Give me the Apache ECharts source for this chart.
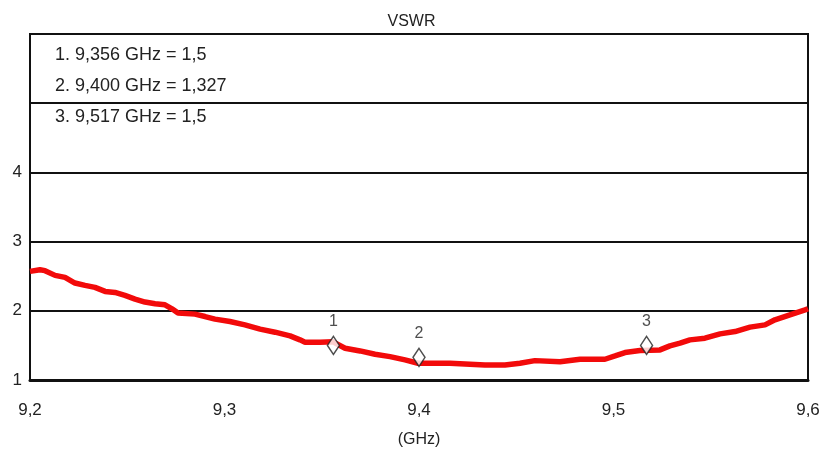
<!DOCTYPE html>
<html>
<head>
<meta charset="utf-8">
<script src="https://cdn.jsdelivr.net/npm/echarts@6/dist/echarts.min.js"></script>
<style>
  html, body { margin: 0; padding: 0; background: #fff; }
  #chart { width: 823px; height: 450px; }
</style>
</head>
<body>
<div id="chart"></div>
<script>
// VSWR sweep, frequency in GHz
const freqGHz = [
  9.2000, 9.2051, 9.2077, 9.2129, 9.2180, 9.2231, 9.2283, 9.2334, 9.2386, 9.2437,
  9.2488, 9.2540, 9.2591, 9.2643, 9.2694, 9.2730, 9.2761, 9.2848, 9.2900, 9.2951,
  9.3028, 9.3105, 9.3183, 9.3260, 9.3337, 9.3388, 9.3414, 9.3491, 9.3558, 9.3620,
  9.3697, 9.3774, 9.3851, 9.3928, 9.3995, 9.4159, 9.4339, 9.4442, 9.4519, 9.4596,
  9.4725, 9.4828, 9.4956, 9.5008, 9.5059, 9.5136, 9.5239, 9.5290, 9.5342, 9.5393,
  9.5470, 9.5548, 9.5625, 9.5702, 9.5779, 9.5830, 9.5907, 9.5985, 9.6000
];
const vswr = [
  2.570, 2.594, 2.580, 2.512, 2.483, 2.401, 2.367, 2.338, 2.280, 2.265,
  2.222, 2.170, 2.126, 2.101, 2.087, 2.029, 1.967, 1.952, 1.917, 1.880,
  1.845, 1.797, 1.735, 1.691, 1.638, 1.580, 1.546, 1.546, 1.551, 1.459,
  1.420, 1.372, 1.338, 1.290, 1.242, 1.242, 1.217, 1.217, 1.242, 1.280,
  1.265, 1.300, 1.300, 1.348, 1.396, 1.425, 1.435, 1.493, 1.532, 1.580,
  1.604, 1.667, 1.700, 1.764, 1.797, 1.870, 1.942, 2.014, 2.030
];

// Markers
const markerFreq = [9.356, 9.400, 9.517];
const markerVswr = [1.5, 1.327, 1.5];

// Axis ticks
const xTicks = [9.2, 9.3, 9.4, 9.5, 9.6];
const yTicksLabelled = [1, 2, 3, 4];

const FONT = '"Liberation Sans", Arial, sans-serif';
const comma = v => String(v).replace('.', ',');

const markerLines = markerFreq.map((f, i) =>
  (i + 1) + '. ' + comma(f.toFixed(3)) + ' GHz = ' + comma(markerVswr[i]));

const chart = echarts.init(document.getElementById('chart'), null, { renderer: 'canvas' });

chart.setOption({
  animation: false,
  backgroundColor: '#ffffff',
  title: {
    text: 'VSWR',
    left: 'center',
    top: 9,
    textStyle: { fontFamily: FONT, fontSize: 16, fontWeight: 'normal', color: '#222' }
  },
  grid: {
    left: 30, right: 15, top: 34, bottom: 70,
    outerBoundsMode: 'none',
    containLabel: false,
    show: true,
    borderColor: '#111',
    borderWidth: 2
  },
  xAxis: {
    type: 'value',
    min: 9.2, max: 9.6, interval: 0.1,
    name: '(GHz)',
    nameLocation: 'middle',
    nameGap: 52,
    nameTextStyle: { fontFamily: FONT, fontSize: 16, color: '#222' },
    axisLine: { show: true, lineStyle: { color: '#111', width: 3 } },
    axisTick: { show: false },
    splitLine: { show: false },
    axisLabel: {
      margin: 22,
      fontFamily: FONT, fontSize: 17, color: '#222',
      formatter: v => xTicks.some(t => Math.abs(t - v) < 1e-6) ? comma(v.toFixed(1)) : ''
    }
  },
  yAxis: {
    type: 'value',
    min: 1, max: 6, interval: 1,
    axisLine: { show: true, lineStyle: { color: '#111', width: 2 } },
    axisTick: { show: false },
    splitLine: { show: true, lineStyle: { color: '#111', width: 2 } },
    axisLabel: {
      margin: 8,
      fontFamily: FONT, fontSize: 17, color: '#222',
      formatter: v => yTicksLabelled.includes(Math.round(v)) ? String(Math.round(v)) : ''
    }
  },
  graphic: markerLines.map((t, i) => ({
    type: 'text',
    left: 55,
    top: 46 + i * 31,
    z: 10,
    style: { text: t, fontFamily: FONT, fontSize: 18, fill: '#222' }
  })),
  series: [
    {
      type: 'line',
      data: freqGHz.map((f, i) => [f, vswr[i]]),
      showSymbol: false,
      smooth: false,
      lineStyle: { color: '#f20a0a', width: 5.5 },
      z: 3
    },
    {
      type: 'scatter',
      data: markerFreq.map((f, i) => ({ value: [f, markerVswr[i]], name: String(i + 1) })),
      symbol: 'diamond',
      symbolSize: [12, 18],
      itemStyle: { color: '#ffffff', borderColor: '#222', borderWidth: 1.5 },
      label: {
        show: true,
        position: 'top',
        distance: 6,
        formatter: p => p.name,
        fontFamily: FONT, fontSize: 16, color: '#222'
      },
      z: 5
    }
  ]
});
</script>
</body>
</html>
